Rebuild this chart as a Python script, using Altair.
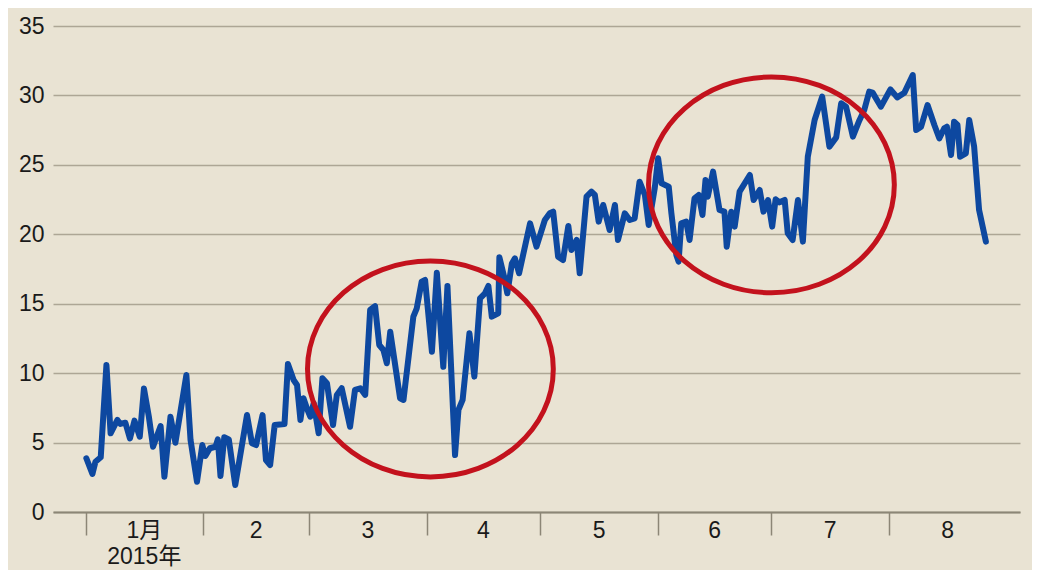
import altair as alt
import pandas as pd

# Day of year 2015 (1 = Jan 1) and series values
days = [1.2, 2.8, 3.6, 5.0, 6.5, 7.6, 9.4, 10.2, 11.5, 12.7, 13.9, 15.3, 16.4, 17.7, 18.8,
        20.8, 21.8, 23.4, 24.7, 27.6, 28.7, 30.4, 31.8, 32.6, 33.8, 35.3, 35.9, 36.6, 37.6,
        38.8, 40.5, 43.6, 44.9, 46.0, 47.7, 48.6, 49.7, 50.9, 53.5, 54.4, 55.9, 56.8, 57.7,
        58.5, 59.4, 60.3, 61.2, 62.5, 63.5, 64.7, 66.3, 67.3, 68.6, 70.8, 72.1, 73.5, 74.8,
        76.1, 77.4, 78.5, 79.6, 80.5, 81.4, 84.0, 84.9, 87.5, 88.4, 89.7, 90.6, 92.4, 93.7,
        95.4, 96.5, 98.5, 99.4, 100.5, 102.3, 103.6, 105.1, 106.4, 107.3, 108.2, 109.9,
        110.2, 111.4, 112.3, 113.5, 114.3, 115.4, 118.3, 120.0, 122.2, 123.5, 124.4, 125.7,
        127.0, 128.4, 129.2, 130.6, 131.4, 133.2, 134.5, 135.4, 136.4, 137.6, 139.3, 140.7,
        141.5, 143.3, 144.6, 145.9, 147.2, 148.6, 149.6, 151.2, 152.1, 153.0, 154.9, 155.6,
        156.9, 157.5, 158.2, 159.5, 160.4, 161.7, 162.8, 163.8, 164.6, 165.2, 166.6, 168.3,
        169.6, 170.2, 171.4, 172.3, 173.6, 176.3, 177.3, 178.9, 179.9, 181.1, 182.2, 183.1,
        184.1, 185.5, 186.3, 187.6, 189.0, 190.3, 191.6, 193.4, 195.4, 197.3, 199.1, 200.4,
        201.7, 203.5, 205.2, 206.5, 207.8, 208.7, 210.9, 213.4, 215.2, 217.1, 219.3, 220.2,
        221.5, 223.2, 225.0, 226.3, 227.6, 228.3, 229.4, 230.2, 231.1, 231.8, 233.3, 234.2,
        235.5, 236.8, 238.6]
values = [3.87, 2.74, 3.62, 3.94, 10.59, 5.67, 6.63, 6.34, 6.43, 5.30, 6.58, 5.42, 8.90, 6.86,
          4.70, 6.19, 2.54, 6.86, 4.99, 9.87, 5.18, 2.18, 4.82, 4.03, 4.59, 4.70, 5.23, 2.59,
          5.38, 5.23, 1.94, 6.98, 4.95, 4.82, 6.98, 3.74, 3.38, 6.26, 6.34, 10.66, 9.50, 9.15,
          6.63, 8.19, 7.47, 6.86, 7.83, 5.67, 9.63, 9.27, 6.26, 8.43, 8.91, 6.14, 8.79, 8.91,
          8.43, 14.55, 14.83, 12.03, 11.67, 10.71, 12.98, 8.19, 8.07, 14.07, 14.67, 16.59,
          16.71, 11.54, 17.23, 10.46, 16.28, 4.10, 7.35, 8.07, 12.87, 9.75, 15.39, 15.75,
          16.28, 14.07, 14.31, 18.34, 17.00, 15.75, 17.90, 18.27, 17.19, 20.79, 19.11, 21.03,
          21.51, 21.63, 18.39, 18.15, 20.60, 18.87, 19.59, 17.19, 22.71, 23.07, 22.83, 20.91,
          22.11, 20.31, 22.11, 19.59, 21.51, 21.03, 21.15, 23.79, 22.83, 20.67, 23.31, 25.47,
          23.67, 23.43, 21.51, 18.51, 18.03, 20.79, 20.91, 19.59, 22.59, 22.83, 21.39, 23.91,
          22.71, 24.51, 21.75, 21.63, 19.11, 21.63, 20.55, 23.07, 24.27, 22.47, 23.19, 21.63,
          22.47, 20.55, 22.52, 22.30, 22.47, 20.07, 19.59, 22.47, 19.47, 25.59, 28.23, 29.91,
          26.31, 26.98, 29.43, 29.19, 27.03, 28.20, 28.95, 30.27, 30.20, 29.19, 30.44, 29.86,
          30.20, 31.47, 27.51, 27.75, 29.31, 27.87, 26.91, 27.63, 27.75, 25.71, 28.11, 27.87,
          25.59, 25.83, 28.23, 26.31, 21.75, 19.47]

# Month boundaries (day of year of the 1st) and month labels at mid-month
month_starts = [1, 32, 60, 91, 121, 152, 182, 213]
month_mid = [16.5, 46, 75.5, 106, 136.5, 167, 197.5, 228.5]
month_labels = ["1月", "2", "3", "4", "5", "6", "7", "8"]
year_mid = [16.5]
year_labels = ["2015年"]

# Highlight ellipses: centres (day, value)
circle_day = [92.0, 182.0]
circle_val = [10.3, 23.56]

y_ticks = [0, 5, 10, 15, 20, 25, 30, 35]

BG = "#e9e3d3"
FONT = "Liberation Sans, Arial, Noto Sans CJK JP"

xscale = alt.Scale(domain=[-7.6, 247.6], nice=False, zero=False)
yscale = alt.Scale(domain=[0, 35], nice=False, zero=True)

x_axis = alt.Axis(
    values=month_starts, labels=False, title=None, grid=False,
    tickSize=23, tickColor="#8c8676", tickWidth=1.5,
    domainColor="#8c8676", domainWidth=2)
y_axis = alt.Axis(
    values=y_ticks, title=None, grid=True, gridColor="#ada695", gridWidth=1.3,
    domain=False, ticks=False, labelPadding=9, labelFontSize=23,
    labelColor="#1a1a1a", labelFont=FONT)

line_df = pd.DataFrame({"day": days, "value": values})
month_df = pd.DataFrame({"day": month_mid, "label": month_labels})
year_df = pd.DataFrame({"day": year_mid, "label": year_labels})
circ_df = pd.DataFrame({"day": circle_day, "value": circle_val})

line = alt.Chart(line_df).mark_line(
    color="#0d48a0", strokeWidth=6, strokeJoin="round", strokeCap="round"
).encode(
    x=alt.X("day:Q", scale=xscale, axis=x_axis),
    y=alt.Y("value:Q", scale=yscale, axis=y_axis),
)

ellipse_path = ("M 1 0 C 1 0.4849 0.5523 0.878 0 0.878 C -0.5523 0.878 -1 0.4849 -1 0 "
                "C -1 -0.4849 -0.5523 -0.878 0 -0.878 C 0.5523 -0.878 1 -0.4849 1 0 Z")

circles = alt.Chart(circ_df).mark_point(
    shape=ellipse_path, size=60418, filled=False, color="#c3121d",
    strokeWidth=5, opacity=1
).encode(
    x=alt.X("day:Q", scale=xscale, axis=x_axis),
    y=alt.Y("value:Q", scale=yscale, axis=y_axis),
)

months = alt.Chart(month_df).mark_text(
    fontSize=23, font=FONT, color="#1a1a1a", baseline="alphabetic", align="center"
).encode(
    x=alt.X("day:Q", scale=xscale, axis=x_axis),
    y=alt.value(512),
    text="label:N",
)

year = alt.Chart(year_df).mark_text(
    fontSize=23, font=FONT, color="#1a1a1a", baseline="alphabetic", align="center"
).encode(
    x=alt.X("day:Q", scale=xscale, axis=x_axis),
    y=alt.value(538),
    text="label:N",
)

chart = alt.layer(line, circles, months, year).properties(
    width=967, height=486,
    background=BG,
    autosize=alt.AutoSizeParams(type="none"),
    padding={"left": 45, "top": 18, "right": 12, "bottom": 58},
).configure_view(stroke=None)

chart.save("out.html", embed_options={"renderer": "svg", "actions": False})
